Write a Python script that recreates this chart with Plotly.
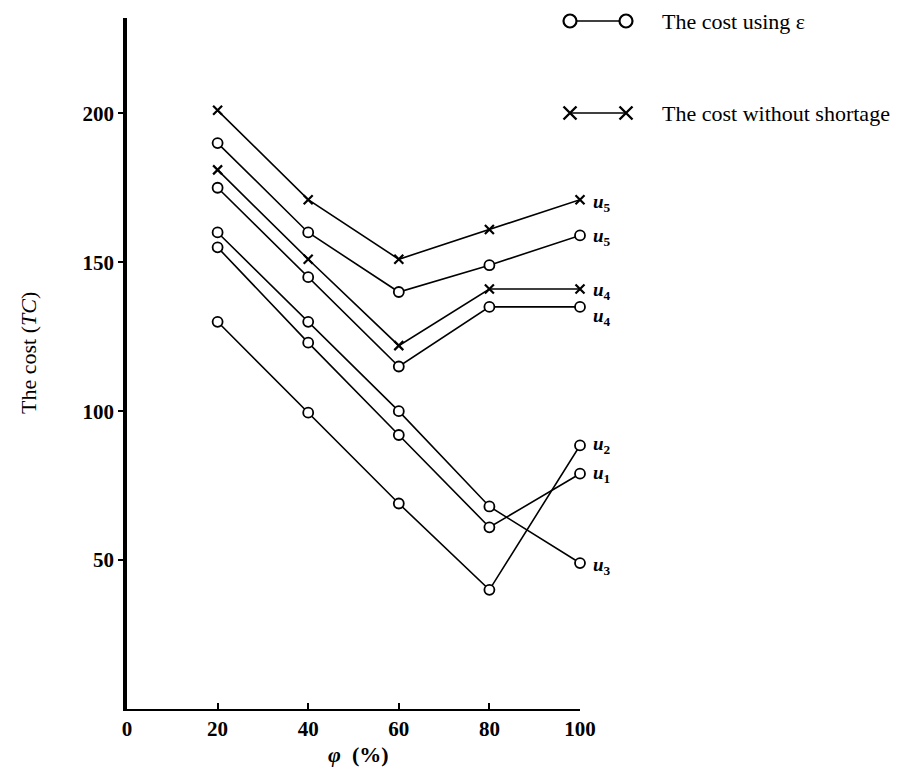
import plotly.graph_objects as go

# ---------------- data ----------------
phi = [20, 40, 60, 80, 100]
x_tick_vals = [0, 20, 40, 60, 80, 100]
y_tick_vals = [50, 100, 150, 200]

cost_eps_u5 = [190, 160, 140, 149, 159]
cost_eps_u4 = [175, 145, 115, 135, 135]
cost_eps_u3 = [160, 130, 100, 68, 49]
cost_eps_u1 = [155, 123, 92, 61, 79]
cost_eps_u2 = [130, 99.5, 69, 40, 88.5]
cost_noshort_u5 = [201, 171, 151, 161, 171]
cost_noshort_u4 = [181, 151, 122, 141, 141]

series = [
    ("x", cost_noshort_u5, "5"),
    ("o", cost_eps_u5, "5"),
    ("x", cost_noshort_u4, "4"),
    ("o", cost_eps_u4, "4"),
    ("o", cost_eps_u3, "3"),
    ("o", cost_eps_u1, "1"),
    ("o", cost_eps_u2, "2"),
]
label_drop = [3, 2, 2, 10, 3, 0, 0]   # px the end label sits below its point

legend_eps = "The cost using \u03b5"
legend_noshort = "The cost without shortage"
y_title = "The cost (<i>TC</i>)"
x_title = "<i>\u03c6</i>  (%)"

# ---------------- layout geometry ----------------
W, H = 900, 769
ML, MR, MT, MB = 119, 328, 10, 68
PW, PH = W - ML - MR, H - MT - MB
SERIF = "Liberation Serif, Times New Roman, serif"


def xp(px):
    return (px - ML) / PW


def yp(py):
    return (H - MB - py) / PH


fig = go.Figure()

for kind, vals, sub in series:
    if kind == "o":
        marker = dict(symbol="circle", size=10, color="white",
                      line=dict(color="black", width=1.8))
    else:
        marker = dict(symbol="x-thin", size=9, color="black",
                      line=dict(color="black", width=2.2))
    fig.add_trace(go.Scatter(
        x=phi, y=vals, mode="lines+markers",
        line=dict(color="black", width=1.6),
        marker=marker, cliponaxis=False, showlegend=False,
        hoverinfo="skip"))

annotations = []
for (kind, vals, sub), drop in zip(series, label_drop):
    annotations.append(dict(
        x=phi[-1], y=vals[-1], xref="x", yref="y",
        text=f"<b><i>u</i><sub>{sub}</sub></b>",
        showarrow=False, xanchor="left", yanchor="middle",
        xshift=11, yshift=-drop,
        font=dict(family=SERIF, size=19, color="black")))

# legend text
annotations.append(dict(x=xp(652), y=yp(13), xref="paper", yref="paper",
                        text=legend_eps, showarrow=False, xanchor="left",
                        yanchor="middle",
                        font=dict(family=SERIF, size=22, color="black")))
annotations.append(dict(x=xp(652), y=yp(105), xref="paper", yref="paper",
                        text=legend_noshort, showarrow=False, xanchor="left",
                        yanchor="middle",
                        font=dict(family=SERIF, size=22, color="black")))
# axis titles
annotations.append(dict(x=xp(20), y=yp(345), xref="paper", yref="paper",
                        text=y_title, showarrow=False, textangle=-90,
                        xanchor="center", yanchor="middle",
                        font=dict(family=SERIF, size=22, color="black")))
annotations.append(dict(x=xp(350), y=yp(746), xref="paper", yref="paper",
                        text=x_title, showarrow=False,
                        xanchor="center", yanchor="middle",
                        font=dict(family=SERIF, size=22, color="black",
                                  weight="bold")))

# legend symbols
shapes = []
r = 6.5
shapes.append(dict(type="line", xref="paper", yref="paper",
                   x0=xp(562 + r), x1=xp(618 - r), y0=yp(13), y1=yp(13),
                   line=dict(color="black", width=1.5)))
for cx in (562, 618):
    shapes.append(dict(type="circle", xref="paper", yref="paper",
                       x0=xp(cx - r), x1=xp(cx + r), y0=yp(13 + r), y1=yp(13 - r),
                       line=dict(color="black", width=2.2), fillcolor="white",
                       layer="above"))
shapes.append(dict(type="line", xref="paper", yref="paper",
                   x0=xp(562), x1=xp(618), y0=yp(105), y1=yp(105),
                   line=dict(color="black", width=1.5)))
c = 6.5
for cx in (562, 618):
    path = (f"M {xp(cx - c)} {yp(105 - c)} L {xp(cx + c)} {yp(105 + c)} "
            f"M {xp(cx - c)} {yp(105 + c)} L {xp(cx + c)} {yp(105 - c)}")
    shapes.append(dict(type="path", xref="paper", yref="paper", path=path,
                       line=dict(color="black", width=2.4)))

fig.update_layout(
    width=W, height=H,
    margin=dict(l=ML, r=MR, t=MT, b=MB, pad=0),
    paper_bgcolor="white", plot_bgcolor="white",
    showlegend=False,
    annotations=annotations, shapes=shapes,
    xaxis=dict(range=[0, 100], tickvals=x_tick_vals,
               ticktext=[str(v) for v in x_tick_vals],
               showgrid=False, zeroline=False, showline=True,
               linecolor="black", linewidth=2,
               ticks="inside", ticklen=6, tickwidth=2, tickcolor="black",
               tickfont=dict(family=SERIF, size=21, color="black",
                             weight="bold")),
    yaxis=dict(range=[0, 232], tickvals=y_tick_vals,
               ticktext=[str(v) for v in y_tick_vals],
               showgrid=False, zeroline=False, showline=True,
               linecolor="black", linewidth=3.5,
               ticks="outside", ticklen=5, tickwidth=2, tickcolor="black",
               tickfont=dict(family=SERIF, size=21, color="black",
                             weight="bold")),
)

fig.write_html("out.html")
